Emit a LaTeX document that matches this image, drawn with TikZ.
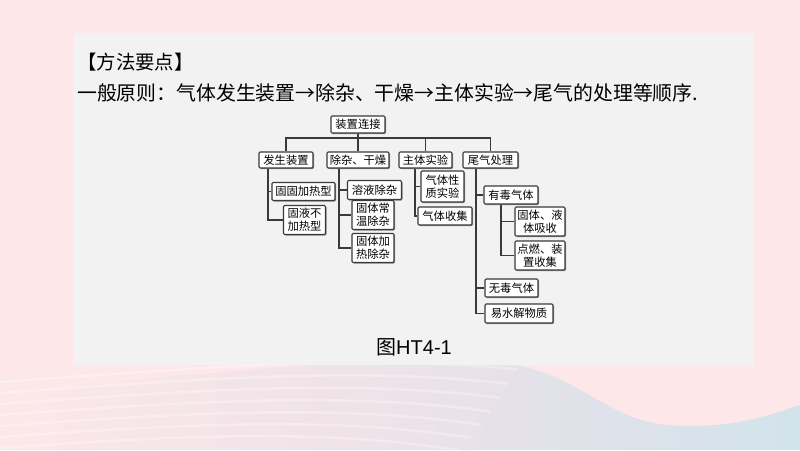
\documentclass[tikz,border=0pt]{standalone}
\usepackage{fontspec}
\setmainfont{Liberation Sans}
\newfontfamily\cjk{Noto Sans CJK SC}
\usetikzlibrary{shadows}
\definecolor{bgpink}{HTML}{FDE7E9}
\definecolor{panelc}{HTML}{F2F2F2}
\definecolor{lav}{HTML}{E8E1E8}
\definecolor{lblue}{HTML}{D2E3EC}
\definecolor{lnc}{HTML}{3A3A3A}
\newcommand\mybox[5]{\node[box,minimum width=#3pt,minimum height=#4pt] (#1) at (#2) {#5};}
\begin{document}
\begin{tikzpicture}[x=1pt,y=-1pt,
  box/.style={draw=lnc, line width=1.1pt, fill=white, rounded corners=1.2pt, inner sep=0pt,
    font=\cjk\fontsize{11.3}{13}\selectfont, align=center,
    drop shadow={shadow xshift=1pt, shadow yshift=-1pt, fill=lnc, opacity=0.55}},
  conn/.style={draw=lnc, line width=1.2pt},
  streak/.style={draw=white, opacity=0.3, line width=2.5pt}]
\useasboundingbox (0,0) rectangle (800,450);
% background
\fill[bgpink] (0,0) rectangle (800,450);
\shade[left color=bgpink, right color=lav]
  (0,450) -- (0,395) .. controls (200,372) and (400,352) .. (520,366)
  .. controls (510,390) and (490,430) .. (470,450) -- cycle;
\foreach \i in {0,...,6}{
  \draw[streak] (0,{382+11*\i}) .. controls (200,{368+11*\i}) and (380,{352+12*\i}) .. (540,{372+16*\i});
}
\shade[left color=lav, right color=lblue]
  (460,450) .. controls (490,420) and (505,385) .. (520,366)
  .. controls (580,378) and (610,420) .. (667,425)
  .. controls (730,430) and (770,415) .. (800,405) -- (800,450) -- cycle;
\fill[panelc] (73,33) rectangle (754,365);
% texts
\node[anchor=west, inner sep=0pt, font=\cjk\fontsize{19.4}{20}\selectfont] (t1) at (77,62) {【方法要点】};
\node[anchor=west, inner sep=0pt, font=\cjk\fontsize{19.85}{20}\selectfont] (t2) at (77,93) {一般原则：气体发生装置→除杂、干燥→主体实验→尾气的处理等顺序.};
\node[inner sep=0pt, font=\fontsize{20}{22}\selectfont] (cap) at (414,347) {{\cjk 图}HT4-1};
% boxes
\mybox{root}{358,124.5}{54}{17}{装置连接}
\mybox{A}{286,160}{54}{16}{发生装置}
\mybox{B}{358,160}{62}{16}{除杂、干燥}
\mybox{C}{425.5,160}{53}{16}{主体实验}
\mybox{D}{490.5,160}{55}{16}{尾气处理}
\mybox{A1}{303.5,191.5}{63}{18}{固固加热型}
\mybox{A2}{304.5,220}{42}{29}{固液不\\加热型}
\mybox{B1}{374.5,190}{54}{19}{溶液除杂}
\mybox{B2}{373,215}{42}{29}{固体常\\温除杂}
\mybox{B3}{373,248}{42}{29}{固体加\\热除杂}
\mybox{C1}{442.5,186.5}{43}{31}{气体性\\质实验}
\mybox{C2}{445,216}{54}{18}{气体收集}
\mybox{D1}{511,195}{54}{18}{有毒气体}
\mybox{D11}{540,221.5}{50}{29}{固体、液\\体吸收}
\mybox{D12}{540,255.5}{50}{29}{点燃、装\\置收集}
\mybox{D2}{511.5,288}{53}{18}{无毒气体}
\mybox{D3}{519,313.5}{68}{19}{易水解物质}
% connectors
\coordinate (bus) at (0,138);
\draw[conn] (root.south) -- (root.south |- bus);
\draw[conn] (A.north) -- (A.north |- bus) -- (D.north |- bus) -- (D.north);
\draw[conn] (B.north) -- (B.north |- bus);
\draw[conn] (C.north) -- (C.north |- bus);
\coordinate (av) at (268,0);
\draw[conn] (A.south -| av) -- (A2.west -| av) -- (A2.west);
\draw[conn] (A1.west -| av) -- (A1.west);
\coordinate (bv) at (339,0);
\draw[conn] (B.south -| bv) -- (B3.west -| bv) -- (B3.west);
\draw[conn] (B1.west -| bv) -- (B1.west);
\draw[conn] (B2.west -| bv) -- (B2.west);
\coordinate (cv) at (415,0);
\draw[conn] (C.south -| cv) -- (C2.west -| cv) -- (C2.west);
\draw[conn] (C1.west -| cv) -- (C1.west);
\coordinate (dv) at (476,0);
\draw[conn] (D.south -| dv) -- (D3.west -| dv) -- (D3.west);
\draw[conn] (D1.west -| dv) -- (D1.west);
\draw[conn] (D2.west -| dv) -- (D2.west);
\coordinate (ev) at (501,0);
\draw[conn] (D1.south -| ev) -- (D12.west -| ev) -- (D12.west);
\draw[conn] (D11.west -| ev) -- (D11.west);
\end{tikzpicture}
\end{document}
